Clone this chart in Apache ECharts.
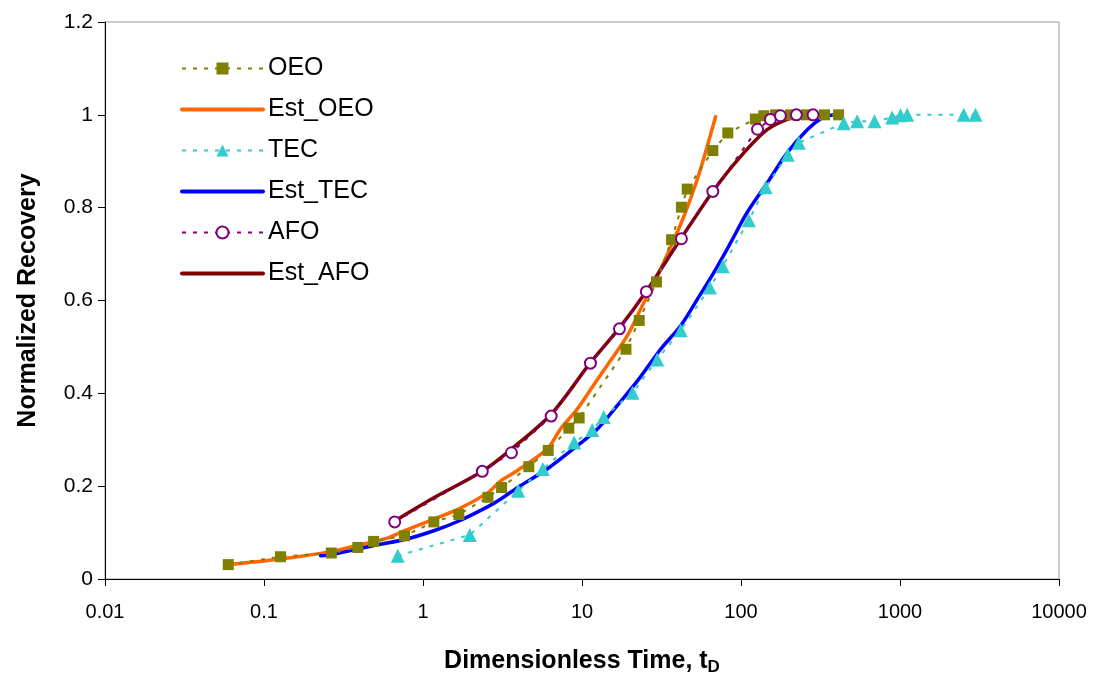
<!DOCTYPE html>
<html>
<head>
<meta charset="utf-8">
<script src="https://cdn.jsdelivr.net/npm/echarts@6/dist/echarts.min.js"></script>
<style>html,body{margin:0;padding:0;background:#fff}#c{width:1096px;height:681px}</style>
</head>
<body>
<div id="c"></div>
<script>
// ---- data ----
const seriesNames = ['OEO', 'Est_OEO', 'TEC', 'Est_TEC', 'AFO', 'Est_AFO'];
const xTickLabels = ['0.01', '0.1', '1', '10', '100', '1000', '10000'];

const oeoT = [0.0596, 0.127, 0.265, 0.389, 0.489, 0.765, 1.17, 1.68, 2.56, 3.12, 4.63, 6.13, 8.26, 9.6, 18.9, 22.9, 29.4, 36.6, 42.2, 45.9, 66.5, 82.6, 123, 139, 165, 205, 258, 335, 411];
const oeoR = [0.031, 0.048, 0.056, 0.068, 0.081, 0.093, 0.123, 0.139, 0.176, 0.197, 0.242, 0.277, 0.325, 0.347, 0.495, 0.557, 0.640, 0.731, 0.801, 0.840, 0.923, 0.961, 0.991, 0.998, 1.0, 1.0, 1.0, 1.0, 1.0];

const estOeoT = [0.0596, 0.127, 0.262, 0.385, 0.596, 0.765, 1.17, 1.68, 2.56, 3.07, 3.73, 6.04, 7.32, 9.33, 12.5, 15.8, 19.2, 23.9, 29.7, 36.0, 43.7, 53.0, 61.3, 69.2];
const estOeoR = [0.031, 0.043, 0.059, 0.072, 0.088, 0.104, 0.129, 0.151, 0.186, 0.211, 0.229, 0.280, 0.323, 0.366, 0.430, 0.480, 0.523, 0.588, 0.652, 0.714, 0.781, 0.860, 0.932, 0.996];

const tecT = [0.694, 1.97, 3.97, 5.67, 8.93, 11.6, 13.7, 20.8, 29.7, 41.8, 63.7, 76.8, 112, 143, 197, 231, 443, 538, 691, 893, 1007, 1110, 2518, 2985];
const tecR = [0.050, 0.095, 0.190, 0.237, 0.294, 0.321, 0.349, 0.401, 0.473, 0.536, 0.628, 0.674, 0.773, 0.844, 0.914, 0.940, 0.982, 0.986, 0.986, 0.994, 0.999, 1.0, 1.0, 1.0];

const estTecT = [0.227, 0.265, 0.491, 0.765, 1.17, 1.68, 2.56, 3.07, 4.10, 6.04, 9.33, 12.5, 16.6, 22.7, 31.2, 41.6, 53.0, 67.4, 85.9, 109, 146, 195, 261, 324, 383];
const estTecR = [0.050, 0.052, 0.072, 0.085, 0.104, 0.125, 0.156, 0.172, 0.201, 0.237, 0.287, 0.323, 0.373, 0.430, 0.495, 0.545, 0.602, 0.660, 0.724, 0.789, 0.853, 0.918, 0.968, 0.993, 1.0];

const afoT = [0.664, 2.36, 3.60, 6.40, 11.3, 17.2, 25.4, 42.2, 66.5, 127, 153, 177, 223, 284];
const afoR = [0.123, 0.232, 0.272, 0.351, 0.465, 0.539, 0.619, 0.733, 0.835, 0.969, 0.990, 0.998, 1.0, 1.0];

const estAfoT = [0.664, 1.17, 2.36, 3.60, 6.40, 11.3, 17.2, 25.4, 42.2, 66.5, 99.3, 146, 205, 261, 299];
const estAfoR = [0.125, 0.175, 0.232, 0.280, 0.355, 0.466, 0.541, 0.620, 0.735, 0.835, 0.910, 0.968, 0.993, 1.0, 1.0];

// ---- build ----
const zip = (a, b) => a.map((v, i) => [v, b[i]]);
const FONT = '"Liberation Sans", Arial, sans-serif';

const chart = echarts.init(document.getElementById('c'), null, { renderer: 'canvas' });
chart.setOption({
  animation: false,
  backgroundColor: '#fff',
  textStyle: { fontFamily: FONT },
  grid: { left: 105, right: 37, top: 22, bottom: 101, show: true, borderColor: '#999', borderWidth: 1 },
  legend: {
    orient: 'vertical', left: 175, top: 51,
    itemWidth: 81, itemHeight: 15, itemGap: 16,
    textStyle: { fontSize: 25, color: '#000', fontFamily: FONT, padding: [0, 0, 0, 0] },
    data: seriesNames.map(n => n.indexOf('Est_') === 0
      ? { name: n, itemStyle: { opacity: 0 }, lineStyle: { width: 4, cap: 'round' } }
      : { name: n, lineStyle: { width: 2 } })
  },
  xAxis: {
    type: 'log', logBase: 10, min: 0.01, max: 10000,
    name: 'Dimensionless Time, t{sub|D}', nameLocation: 'middle', nameGap: 68,
    nameTextStyle: { fontSize: 25, fontWeight: 'bold', color: '#000', fontFamily: FONT,
      rich: { sub: { fontSize: 17, fontWeight: 'bold', verticalAlign: 'bottom', padding: [12, 0, 0, 0], fontFamily: FONT } } },
    axisLine: { lineStyle: { color: '#000', width: 1 } },
    axisTick: { show: true, inside: false, length: 7, lineStyle: { color: '#000' } },
    minorTick: { show: false },
    splitLine: { show: false },
    axisLabel: { fontSize: 20, color: '#000', margin: 23, fontFamily: FONT,
      formatter: v => { const i = Math.round(Math.log10(v)) + 2; return xTickLabels[i] !== undefined ? xTickLabels[i] : ''; } }
  },
  yAxis: {
    type: 'value', min: 0, max: 1.2, interval: 0.2,
    name: 'Normalized Recovery', nameLocation: 'middle', nameGap: 64,
    nameTextStyle: { fontSize: 25, fontWeight: 'bold', color: '#000', fontFamily: FONT },
    axisLine: { show: true, lineStyle: { color: '#000', width: 1 } },
    axisTick: { show: true, inside: false, length: 7, lineStyle: { color: '#000' } },
    splitLine: { show: false },
    axisLabel: { fontSize: 21, color: '#000', margin: 12, fontFamily: FONT,
      formatter: v => String(parseFloat(v.toFixed(1))) }
  },
  series: [
    { name: 'OEO', type: 'line', data: zip(oeoT, oeoR), symbol: 'rect', symbolSize: 11,
      itemStyle: { color: '#808000' }, lineStyle: { color: '#808000', width: 2, type: [4, 7] }, z: 3 },
    { name: 'Est_OEO', type: 'line', data: zip(estOeoT, estOeoR), symbol: 'none', smooth: 0.3,
      itemStyle: { color: '#FF6600' }, lineStyle: { color: '#FF6600', width: 3.5, cap: 'round' }, z: 2 },
    { name: 'TEC', type: 'line', data: zip(tecT, tecR), symbol: 'triangle', symbolSize: 14,
      itemStyle: { color: '#33CCCC' }, lineStyle: { color: '#33CCCC', width: 2, type: [4, 7] }, z: 3 },
    { name: 'Est_TEC', type: 'line', data: zip(estTecT, estTecR), symbol: 'none', smooth: 0.3,
      itemStyle: { color: '#0000FF' }, lineStyle: { color: '#0000FF', width: 3.5, cap: 'round' }, z: 2 },
    { name: 'AFO', type: 'line', data: zip(afoT, afoR), symbol: 'emptyCircle', symbolSize: 11,
      itemStyle: { color: '#800080', borderWidth: 2, borderColor: '#800080' }, lineStyle: { color: '#800080', width: 2, type: [4, 7] }, z: 3 },
    { name: 'Est_AFO', type: 'line', data: zip(estAfoT, estAfoR), symbol: 'none', smooth: 0.3,
      itemStyle: { color: '#800000' }, lineStyle: { color: '#800000', width: 3.5, cap: 'round' }, z: 2 }
  ]
});
</script>
</body>
</html>
